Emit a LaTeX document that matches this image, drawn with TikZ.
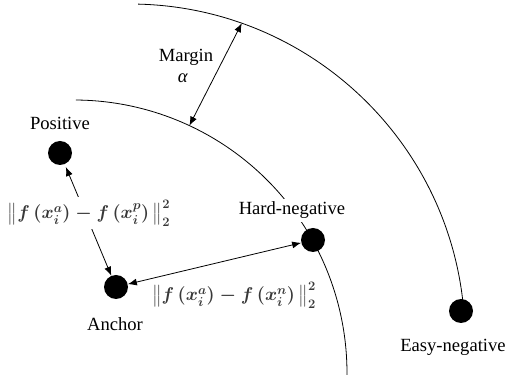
\RequirePackage{fix-cm}
\documentclass[tikz,border=0pt]{standalone}
\usepackage{amsmath}
\usepackage{fontspec}
\setmainfont{Liberation Serif}
\newfontfamily\lbfont{Liberation Serif}
\usetikzlibrary{arrows.meta}
\begin{document}
\begin{tikzpicture}[x=1pt,y=1pt,
  dot/.style={circle, fill=black, minimum size=24pt, inner sep=0pt},
  lbl/.style={font=\lbfont\fontsize{18.6}{22}\selectfont, anchor=base, inner sep=1pt},
  frm/.style={font=\fontsize{18.5}{22}\selectfont\boldmath, text=black!78},
  arr/.style={{Latex[length=9pt,width=7pt]}-{Latex[length=9pt,width=7pt]}, line width=0.8pt},
  curve/.style={line width=0.8pt}]
\useasboundingbox (0,0) rectangle (507,375);
% arcs
\draw[curve] (74,2) ++(89.6:273) arc[start angle=89.6, end angle=-0.5, radius=273];
\draw[curve] (130,36) ++(88.6:335) arc[start angle=88.6, end angle=4.8, radius=335];
% margin arrow ends on the arcs
\coordinate (m1) at (241.8,351.8);
\coordinate (m2) at (189.4,249.4);
\draw[arr] (m1) -- (m2);
\node[lbl] (mtxt) at (186,313) {Margin};
\node[lbl] (malpha) at (183,292) {\textit{α}};
% nodes
\node[dot] (pos) at (60,222) {};
\node[dot] (anc) at (116,88) {};
\node[dot] (hn) at (313,135) {};
\node[dot] (en) at (461,64) {};
% labels
\node[lbl] (lpos) at (60,245) {Positive};
\node[lbl] (lanc) at (115,44) {Anchor};
\node[lbl, fill=white, inner sep=3pt] (lhn) at (292,160) {Hard-negative};
\node[lbl] (len) at (453,23) {Easy-negative};
% connectors
\draw[arr, shorten >=3pt] (anc) -- (pos);
\draw[arr] (anc) -- (hn);
\node[frm, fill=white, inner sep=3pt] (fp) at (89,162) {$\bigl\| f\,(x_i^a) - f\,(x_i^p)\,\bigr\|_2^2$};
\node[frm] (fn) at (234,80) {$\bigl\| f\,(x_i^a) - f\,(x_i^n)\,\bigr\|_2^2$};
\end{tikzpicture}
\end{document}
